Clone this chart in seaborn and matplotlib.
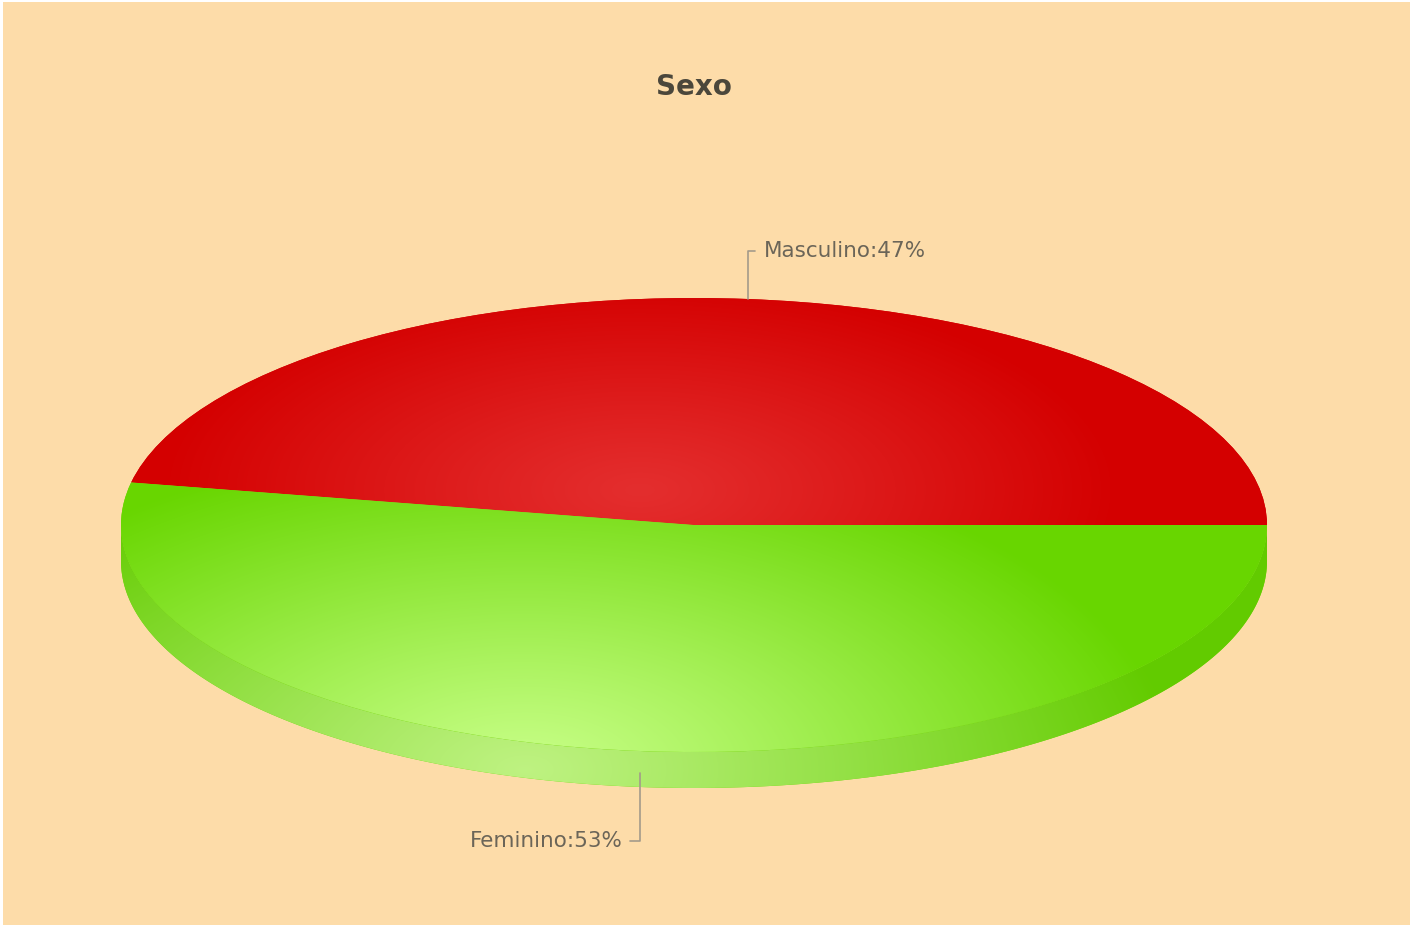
import numpy as np
import matplotlib
matplotlib.use("Agg")
import matplotlib.pyplot as plt
import seaborn as sns
from matplotlib.patches import Rectangle, PathPatch
from matplotlib.path import Path

# ---- data ----
title = "Sexo"
labels = ["Masculino", "Feminino"]
values = [47, 53]
base_colors = ["#D40000", "#68D600"]
light_colors = ["#E42E2E", "#C8FF88"]

# ---- style ----
sns.set_theme(style="white")
plt.rcParams['font.family'] = ['DejaVu Sans']
bg = "#FDDCA9"

W, H = 1411, 927
cx, cy = 694, 525          # pie centre (pixels, from top)
rx, ry = 573, 227          # ellipse radii (pixels)
depth = 36                 # 3-D thickness (pixels)
d = depth / ry

fig = plt.figure(figsize=(W / 100, H / 100), dpi=100)
fig.patch.set_facecolor("white")
fig.add_artist(Rectangle((3 / W, 2 / H), (W - 4) / W, (H - 4) / H,
                         transform=fig.transFigure, facecolor=bg,
                         edgecolor="none", zorder=-10))

ax = fig.add_axes([0, 0, 1, 1])
xlim = (-cx / rx, (W - cx) / rx)
ylim = (-(H - cy) / ry, cy / ry)

# top face of the pie
wedges, _ = ax.pie(values, colors=base_colors, startangle=0, counterclock=True,
                   radius=1, center=(0, 0), wedgeprops=dict(linewidth=0))
ax.set_aspect("auto")
ax.set_xlim(*xlim)
ax.set_ylim(*ylim)
ax.axis("off")

# gradient fields in pixel space
X, Y = np.meshgrid(np.arange(W) + 0.5, np.arange(H) + 0.5)
grad_centres = [(640, 490, 480, 210), (525, 770, 650, 330)]


def gradient(i, dark=1.0):
    gx, gy, sx, sy = grad_centres[i]
    t = np.sqrt(((X - gx) / sx) ** 2 + ((Y - gy) / sy) ** 2)
    t = np.clip(t, 0, 1) ** 1.1
    c0 = np.array(matplotlib.colors.to_rgb(light_colors[i]))
    c1 = np.array(matplotlib.colors.to_rgb(base_colors[i]))
    img = c0[None, None, :] * (1 - t[..., None]) + c1[None, None, :] * t[..., None]
    return np.clip(img * dark, 0, 1)


extent = (xlim[0], xlim[1], ylim[0], ylim[1])

for i, w in enumerate(wedges):
    w.set_zorder(3)
    # side (only the front half, angles 180..360, is visible)
    a0 = max(w.theta1, 180.0)
    a1 = min(w.theta2, 360.0)
    if a1 > a0:
        ang = np.radians(np.linspace(a0, a1, 200))
        top = np.column_stack([np.cos(ang), np.sin(ang)])
        bot = np.column_stack([np.cos(ang[::-1]), np.sin(ang[::-1]) - d])
        verts = np.vstack([top, bot, top[:1]])
        side = PathPatch(Path(verts, closed=True), facecolor=base_colors[i],
                         edgecolor="none", zorder=1)
        ax.add_patch(side)
        im = ax.imshow(gradient(i, dark=0.95), extent=extent, origin="upper",
                       aspect="auto", zorder=2, interpolation="bilinear")
        im.set_clip_path(side)
    im = ax.imshow(gradient(i), extent=extent, origin="upper", aspect="auto",
                   zorder=4, interpolation="bilinear")
    im.set_clip_path(w)

ax.set_xlim(*xlim)
ax.set_ylim(*ylim)

# labels with leader lines
line_col = "#A39A8A"
text_col = "#6B6558"
for i, w in enumerate(wedges):
    mid = np.radians((w.theta1 + w.theta2) / 2)
    x = np.cos(mid)
    y = np.sin(mid)
    txt = f"{labels[i]}:{values[i]}%"
    if y >= 0:
        y0, y1 = y, y + 0.21
        hx = x + 7 / rx
        ax.plot([x, x, hx], [y0, y1, y1], color=line_col, lw=1.2, zorder=6)
        ax.text(x + 16 / rx, y1, txt, ha="left", va="center", fontsize=15.5,
                color=text_col, zorder=6)
    else:
        y0, y1 = y - 0.6 * d, y - d - 0.24
        hx = x - 10 / rx
        ax.plot([x, x, hx], [y0, y1, y1], color=line_col, lw=1.2, zorder=6)
        ax.text(x - 17 / rx, y1, txt, ha="right", va="center", fontsize=15.5,
                color=text_col, zorder=6)

fig.text(cx / W, 1 - 87 / H, title, ha="center", va="center", fontsize=20,
         fontweight="bold", color="#4B473B")

fig.savefig("out.png", dpi=100, facecolor=fig.get_facecolor())
